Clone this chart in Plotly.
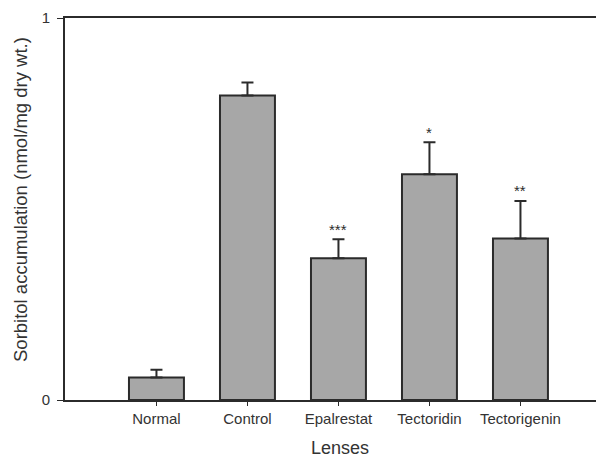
import plotly.graph_objects as go

categories = ["Normal", "Control", "Epalrestat", "Tectoridin", "Tectorigenin"]
means = [0.059, 0.797, 0.371, 0.591, 0.423]
sems = [0.020, 0.034, 0.050, 0.084, 0.098]
stars = ["", "", "***", "*", "**"]
y_ticks = [0, 1]

INK = "#2b2b2b"
FONT = "Liberation Sans, Arial, sans-serif"

# page body has an 8px default margin; figure is sized/offset to compensate
W, H = 596, 450
ML, MT, MB = 57, 10, 58
PW = W - ML
PH = H - MT - MB

fig = go.Figure()
fig.add_trace(go.Bar(
    x=categories, y=means,
    marker=dict(color="#a7a7a7", line=dict(color=INK, width=2)),
    error_y=dict(type="data", array=sems, arrayminus=[0] * len(sems), symmetric=False,
                 color=INK, thickness=2, width=6),
))

for c, m, s, st in zip(categories, means, sems, stars):
    if st:
        fig.add_annotation(x=c, y=m + s, text=st, showarrow=False, yanchor="middle",
                           yshift=10, font=dict(size=15, color=INK, family=FONT))

fig.add_annotation(xref="paper", yref="paper", x=(12 - ML) / PW, y=(MT + PH - 192) / PH,
                   text="Sorbitol accumulation (nmol/mg dry wt.)", textangle=-90,
                   showarrow=False, xanchor="center", yanchor="middle",
                   font=dict(size=18.5, color="#333", family=FONT))
fig.add_annotation(xref="paper", yref="paper", x=(332 - ML) / PW, y=(MT + PH - 440) / PH,
                   text="Lenses", showarrow=False, xanchor="center", yanchor="middle",
                   font=dict(size=18, color="#333", family=FONT))

fig.update_layout(
    width=W, height=H,
    margin=dict(l=ML, r=0, t=MT, b=MB),
    paper_bgcolor="white", plot_bgcolor="white",
    showlegend=False, bargap=0.396,
    font=dict(family=FONT, color="#333"),
)
fig.update_xaxes(range=[-1.005, 4.918], showline=True, linecolor=INK, linewidth=2, mirror=True,
                 ticks="outside", ticklen=4, tickcolor=INK, tickwidth=1,
                 tickfont=dict(size=15, color="#333"), showgrid=False, zeroline=False)
fig.update_yaxes(range=[0, 1], tickvals=y_ticks, ticktext=[str(v) for v in y_ticks],
                 showline=True, linecolor=INK, linewidth=2, mirror=False,
                 ticks="outside", ticklen=6, tickcolor=INK, tickwidth=1,
                 ticklabelstandoff=4,
                 tickfont=dict(size=15, color="#333"), showgrid=False, zeroline=False)

fig.write_html("out.html")
